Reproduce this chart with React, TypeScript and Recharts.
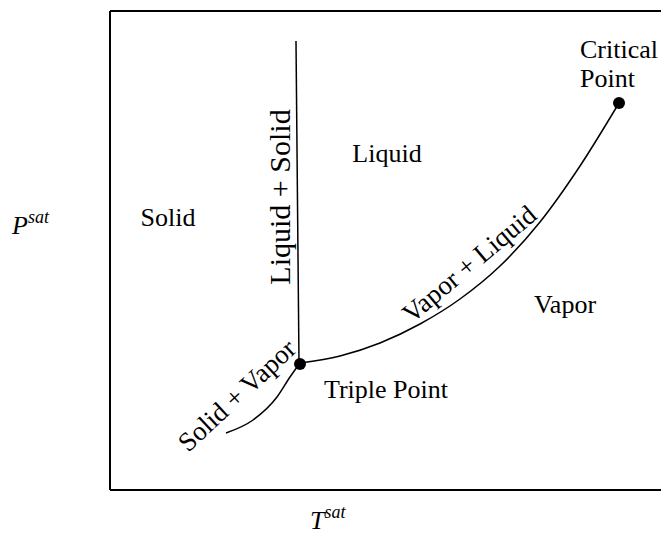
import {
    ComposedChart,
    Line,
    ReferenceLine,
    Scatter,
    XAxis,
    YAxis
} from 'recharts';

// coordinates are in arbitrary T / P units (0..551, 0..479)
const fusionLine = [
    { x: 186, y: 449 },
    { x: 189, y: 127 },
];

const sublimationCurve = [
    { x: 116, y: 57 },
    { x: 143, y: 70 },
    { x: 167, y: 93 },
    { x: 180, y: 113 },
    { x: 190, y: 127 },
];

const vaporizationCurve = [
    { x: 190, y: 127 },
    { x: 230, y: 134 },
    { x: 270, y: 147 },
    { x: 310, y: 166 },
    { x: 350, y: 191 },
    { x: 390, y: 224 },
    { x: 430, y: 268 },
    { x: 470, y: 324 },
    { x: 509, y: 387 },
];

const specialPoints = [
    { x: 190, y: 126, name: 'Triple Point' },
    { x: 509, y: 387, name: 'Critical Point' },
];

const regionLabels = [
    { x: 58, y: 264, text: 'Solid', angle: 0, size: 26 },
    { x: 277, y: 328, text: 'Liquid', angle: 0, size: 26 },
    { x: 455, y: 177, text: 'Vapor', angle: 0, size: 26 },
    { x: 276, y: 92, text: 'Triple Point', angle: 0, size: 26 },
    { x: 470, y: 432, text: 'Critical', angle: 0, size: 26 },
    { x: 470, y: 403, text: 'Point', angle: 0, size: 26 },
    { x: 180, y: 293, text: 'Liquid + Solid', angle: -90, size: 30 },
    { x: 133, y: 88, text: 'Solid + Vapor', angle: -43, size: 27 },
    { x: 365, y: 219, text: 'Vapor + Liquid', angle: -40, size: 27 },
];

const FONT = '"Liberation Serif", "Times New Roman", serif';

const RegionText = (props: any) => {
    const { cx, cy, payload } = props;
    const anchor = payload.text === 'Critical' || payload.text === 'Point' ? 'start' : 'middle';
    return (
        <text
            x={cx}
            y={cy}
            textAnchor={anchor}
            fontFamily={FONT}
            fontSize={payload.size}
            fill="#000"
            transform={payload.angle ? `rotate(${payload.angle} ${cx} ${cy})` : undefined}
        >
            {payload.text}
        </text>
    );
};

const Dot = (props: any) => <circle cx={props.cx} cy={props.cy} r={6} fill="#000" />;

const PLabel = () => (
    <text x={12} y={234} fontFamily={FONT} fontStyle="italic" fontSize={26} fill="#000">
        P<tspan fontSize={18} dy={-11}>sat</tspan>
    </text>
);

const TLabel = () => (
    <text x={310} y={529} fontFamily={FONT} fontStyle="italic" fontSize={26} fill="#000">
        T<tspan fontSize={18} dy={-11}>sat</tspan>
    </text>
);

export default function App() {
    return (
        <div style={{ position: 'absolute', left: 0, top: 0 }}>
            <ComposedChart width={661} height={534} margin={{ top: 11, right: 0, bottom: 0, left: 0 }}>
                <XAxis
                    type="number"
                    dataKey="x"
                    domain={[0, 551]}
                    tick={false}
                    tickLine={false}
                    axisLine={{ stroke: '#000', strokeWidth: 2 }}
                    height={44}
                    label={TLabel}
                />
                <YAxis
                    type="number"
                    dataKey="y"
                    domain={[0, 479]}
                    tick={false}
                    tickLine={false}
                    axisLine={{ stroke: '#000', strokeWidth: 2 }}
                    width={110}
                    label={PLabel}
                />
                <ReferenceLine y={479} stroke="#000" strokeWidth={2} />
                <Line data={fusionLine} dataKey="y" type="linear" stroke="#000" strokeWidth={1.5} dot={false} isAnimationActive={false} />
                <Line data={sublimationCurve} dataKey="y" type="monotone" stroke="#000" strokeWidth={1.5} dot={false} isAnimationActive={false} />
                <Line data={vaporizationCurve} dataKey="y" type="monotone" stroke="#000" strokeWidth={1.5} dot={false} isAnimationActive={false} />
                <Scatter data={specialPoints} dataKey="y" shape={Dot} isAnimationActive={false} />
                <Scatter data={regionLabels} dataKey="y" shape={RegionText} isAnimationActive={false} />
            </ComposedChart>
        </div>
    );
}
